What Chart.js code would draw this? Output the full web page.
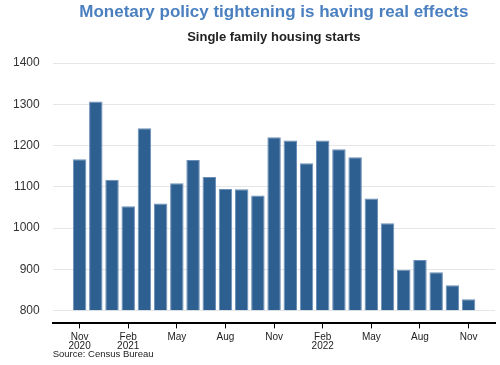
<!DOCTYPE html>
<html>
<head>
<meta charset="utf-8">
<script src="https://cdn.jsdelivr.net/npm/chart.js@4/dist/chart.umd.min.js"></script>
<style>
  html, body { margin: 0; padding: 0; background: #fff; }
  #wrap { width: 500px; height: 365px; }
</style>
</head>
<body>
<div id="wrap"><canvas id="myChart"></canvas></div>
<script>
// monthly single family housing starts, Nov 2020 - Nov 2022 (thousands, SAAR)
var months = ["2020-11", "2020-12", "2021-01", "2021-02", "2021-03", "2021-04", "2021-05",
    "2021-06", "2021-07", "2021-08", "2021-09", "2021-10", "2021-11", "2021-12",
    "2022-01", "2022-02", "2022-03", "2022-04", "2022-05", "2022-06", "2022-07",
    "2022-08", "2022-09", "2022-10", "2022-11"];
var starts = [1167, 1307, 1117, 1053, 1242, 1060, 1109, 1165, 1124, 1095, 1094, 1079,
    1220, 1212, 1157, 1212, 1191, 1172, 1072, 1012, 899, 923, 893, 862, 828];

var tickPos = [0, 3, 6, 9, 12, 15, 18, 21, 24];
var tickLabels = [["Nov", "2020"], ["Feb", "2021"], "May", "Aug", "Nov", ["Feb", "2022"], "May", "Aug", "Nov"];
var yTicks = [800, 900, 1000, 1100, 1200, 1300, 1400];

var font = "'Liberation Sans', Arial, Helvetica, sans-serif";

var sourceNote = {
    id: "sourceNote",
    afterDraw: function (chart) {
        var ctx = chart.ctx;
        ctx.save();
        ctx.font = "9.5px " + font;
        ctx.fillStyle = "#222";
        ctx.textAlign = "left";
        ctx.textBaseline = "middle";
        ctx.fillText("Source: Census Bureau", chart.chartArea.left, 354);
        ctx.restore();
    }
};

var points = starts.map(function (v, i) { return { x: i, y: v }; });

var ctx = document.getElementById("myChart");
var chart = new Chart(ctx, {
    type: "bar",
    data: {
        datasets: [{
            label: "Single family housing starts",
            data: points,
            base: 800,
            backgroundColor: "#2d5f91",
            borderColor: "#6b8fb8",
            borderWidth: 1,
            categoryPercentage: 1.0,
            barPercentage: 0.83
        }]
    },
    options: {
        responsive: true,
        maintainAspectRatio: false,
        animation: false,
        layout: { padding: { left: 0, right: 5, top: 0, bottom: 10 } },
        plugins: {
            legend: { display: false },
            tooltip: { enabled: false },
            title: {
                display: true,
                text: "Monetary policy tightening is having real effects",
                color: "#4b80c0",
                fullSize: false,
                font: { family: font, size: 17, weight: "bold", lineHeight: 1.2 },
                padding: { top: 2, bottom: 6 }
            },
            subtitle: {
                display: true,
                text: "Single family housing starts",
                color: "#222",
                fullSize: false,
                font: { family: font, size: 13, weight: "bold", lineHeight: 1.2 },
                padding: { top: 1.5, bottom: 17.5 }
            }
        },
        scales: {
            x: {
                type: "linear",
                min: -1.66,
                max: 25.63,
                offset: false,
                afterBuildTicks: function (axis) {
                    axis.ticks = tickPos.map(function (v) { return { value: v }; });
                },
                grid: {
                    display: true,
                    offset: false,
                    drawOnChartArea: false,
                    drawTicks: true,
                    tickLength: 5,
                    tickColor: "#000",
                    tickWidth: 1
                },
                border: { display: true, color: "#000", width: 2 },
                ticks: {
                    autoSkip: false,
                    maxRotation: 0,
                    padding: 4.5,
                    color: "#222",
                    font: { family: font, size: 10, lineHeight: 0.88 },
                    callback: function (value) {
                        var k = tickPos.indexOf(value);
                        return k >= 0 ? tickLabels[k] : "";
                    }
                }
            },
            y: {
                min: 769.3,
                max: 1400,
                afterBuildTicks: function (axis) {
                    axis.ticks = yTicks.map(function (v) { return { value: v }; });
                },
                grid: { color: "#e6e6e6", lineWidth: 1, drawTicks: false },
                border: { display: false },
                ticks: {
                    padding: 13,
                    color: "#333",
                    font: { family: font, size: 12 },
                    callback: function (value) { return String(value); }
                }
            }
        }
    },
    plugins: [sourceNote]
});
</script>
</body>
</html>
